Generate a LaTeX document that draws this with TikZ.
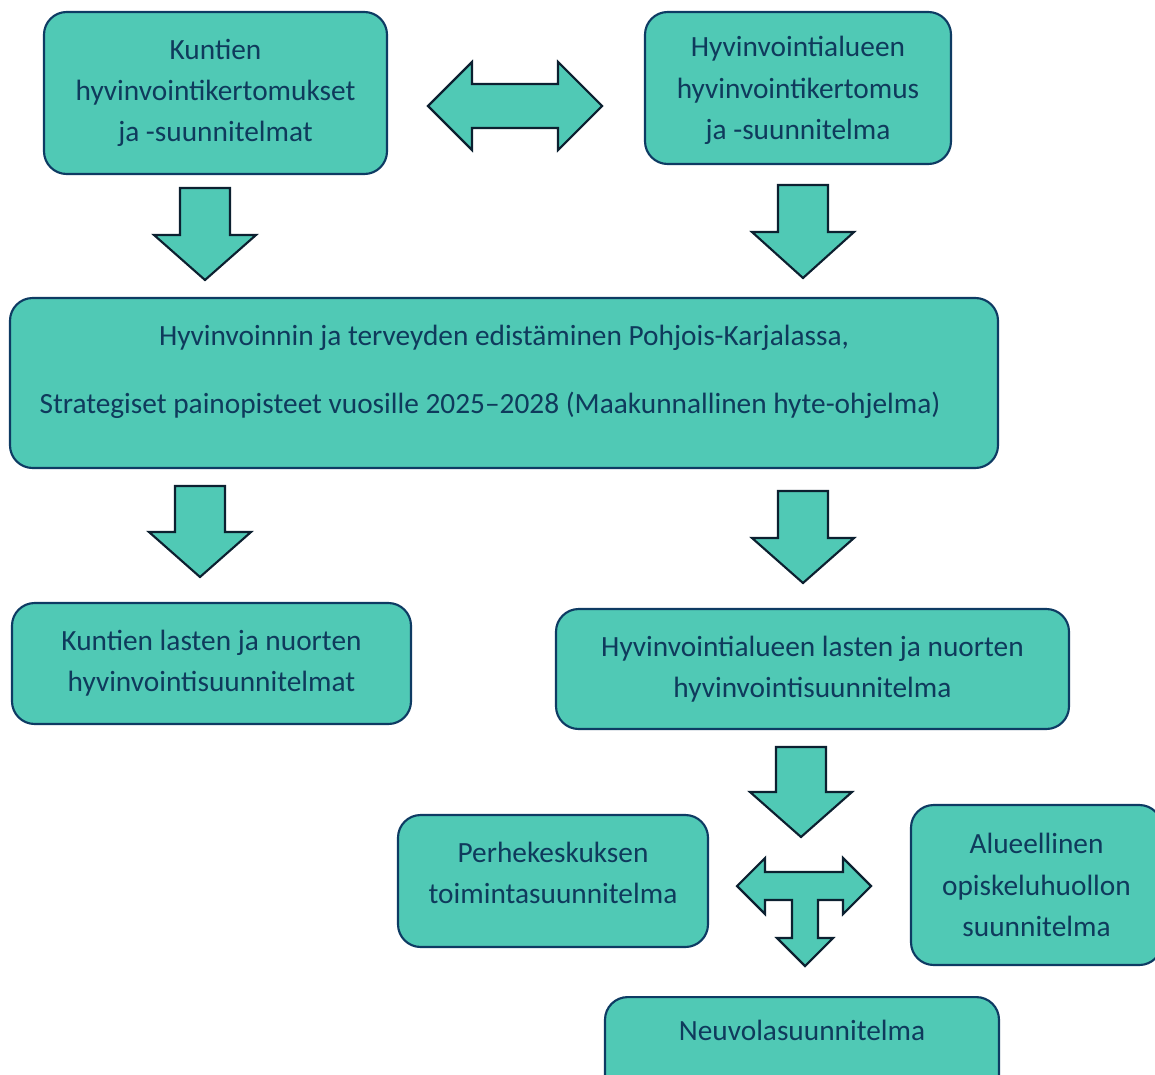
\documentclass[tikz,border=0pt]{standalone}
\usepackage{fontspec}
\setmainfont{Carlito}
\begin{document}
\begin{tikzpicture}[x=0.75pt, y=-0.75pt,
    box/.style={draw=boxline, fill=turq, line width=1.6pt, rounded corners=17pt,
      align=center, text=navy, inner sep=0pt, font=\fontsize{22}{31}\selectfont},
    label/.style={text=navy, inner sep=0pt, font=\fontsize{22}{31}\selectfont},
    blockarrow/.style={draw=arrowline, fill=turq, line width=1.6pt, line join=miter}]
    \definecolor{turq}{HTML}{50C9B5}
    \definecolor{boxline}{HTML}{0E3B63}
    \definecolor{arrowline}{HTML}{0C2030}
    \definecolor{navy}{HTML}{0F3A5C}
    % x, top of shaft, base of head, tip
    \def\blockdown#1#2#3#4{\draw[blockarrow] ({#1-25},#2) -- ({#1+25},#2) -- ({#1+25},#3) -- ({#1+51},#3)
      -- (#1,#4) -- ({#1-51},#3) -- ({#1-25},#3) -- cycle;}
    \useasboundingbox (0,0) rectangle (1155,1074);
    \clip (0,0) rectangle (1155,1074);
    % plans
    \node[box, minimum width=343*0.75pt, minimum height=162*0.75pt] (kunnat) at (215.5,93)
      {Kuntien\\hyvinvointikertomukset\\ja -suunnitelmat};
    \node[box, minimum width=306*0.75pt, minimum height=152*0.75pt, text depth=0pt] (alue) at (798,88)
      {Hyvinvointialueen\\hyvinvointikertomus\\ja -suunnitelma};
    \node[box, minimum width=988*0.75pt, minimum height=170*0.75pt, text depth=20pt] (hyte) at (504,383)
      {Hyvinvoinnin ja terveyden edistäminen Pohjois-Karjalassa,\\[20pt]
       Strategiset painopisteet vuosille 2025--2028 (Maakunnallinen hyte-ohjelma)\hspace*{21pt}};
    \node[box, minimum width=399*0.75pt, minimum height=121*0.75pt] (kuntalapset) at (211.5,663.5)
      {Kuntien lasten ja nuorten\\hyvinvointisuunnitelmat};
    \node[box, minimum width=513*0.75pt, minimum height=120*0.75pt] (aluelapset) at (812.5,669)
      {Hyvinvointialueen lasten ja nuorten\\hyvinvointisuunnitelma};
    \node[box, minimum width=310*0.75pt, minimum height=132*0.75pt, text depth=12pt] (perhe) at (553,881)
      {Perhekeskuksen\\toimintasuunnitelma};
    \node[box, minimum width=251*0.75pt, minimum height=160*0.75pt] (opiskelu) at (1036.5,885)
      {Alueellinen\\opiskeluhuollon\\suunnitelma};
    \node[box, minimum width=394*0.75pt, minimum height=150*0.75pt, anchor=north] (neuvola) at (802,996) {};
    \node[label] (neuvolateksti) at (802,1030) {Neuvolasuunnitelma};
    % arrows
    \draw[blockarrow] (428,106) -- (472,62) -- (472,84) -- (558,84) -- (558,62) -- (602,106)
      -- (558,150) -- (558,128) -- (472,128) -- (472,150) -- cycle;
    \blockdown{205}{188}{235}{280}
    \blockdown{803}{185}{232}{278}
    \blockdown{200}{486}{532}{577}
    \blockdown{803}{491}{538}{583}
    \blockdown{801}{747}{792}{837}
    \draw[blockarrow] (737,886) -- (765,858) -- (765,872) -- (843,872) -- (843,858) -- (871,886)
      -- (843,914) -- (843,900) -- (818,900) -- (818,938) -- (833,938) -- (805,966) -- (777,938)
      -- (792,938) -- (792,900) -- (765,900) -- (765,914) -- cycle;
\end{tikzpicture}
\end{document}
